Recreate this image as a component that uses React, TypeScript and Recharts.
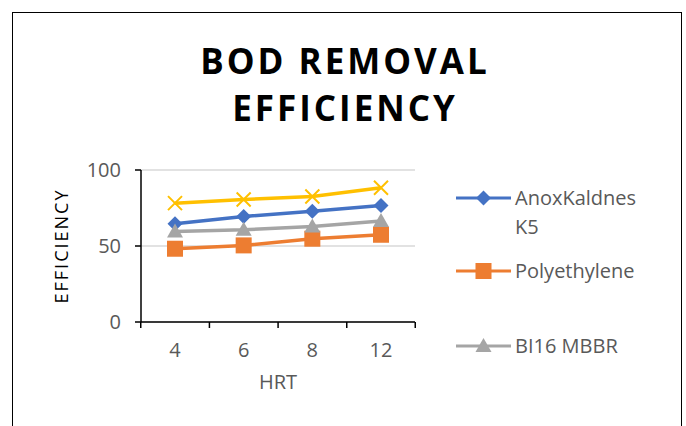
import { LineChart, Line, XAxis, YAxis, CartesianGrid } from "recharts";

const hrt = ["4", "6", "8", "12"];
const anoxKaldnes = [64.6, 69.4, 72.9, 76.7];
const polyethylene = [48.2, 50.4, 54.8, 57.4];
const bi16 = [59.6, 60.7, 62.9, 66.4];
const fourth = [78.2, 80.6, 82.6, 88.3];
const yTicks = [0, 50, 100];

const data = hrt.map((h, i) => ({
  hrt: h,
  anox: anoxKaldnes[i],
  poly: polyethylene[i],
  bi16: bi16[i],
  other: fourth[i],
}));

const FONT = "'Open Sans', sans-serif";
const TEXT = "#595959";
const BAND = 68.5;

const Diamond = (props: any) => {
  const { cx, cy, fill } = props;
  if (cx == null || cy == null) return null;
  const r = 7.5;
  return <path d={`M${cx},${cy - r}L${cx + r},${cy}L${cx},${cy + r}L${cx - r},${cy}Z`} fill={fill} />;
};

const Square = (props: any) => {
  const { cx, cy, fill } = props;
  if (cx == null || cy == null) return null;
  return <rect x={cx - 8} y={cy - 8} width={16} height={16} fill={fill} />;
};

const Triangle = (props: any) => {
  const { cx, cy, fill } = props;
  if (cx == null || cy == null) return null;
  return <path d={`M${cx},${cy - 8}L${cx + 8},${cy + 6}L${cx - 8},${cy + 6}Z`} fill={fill} />;
};

const Cross = (props: any) => {
  const { cx, cy, stroke } = props;
  if (cx == null || cy == null) return null;
  const r = 7;
  return (
    <path
      d={`M${cx - r},${cy - r}L${cx + r},${cy + r}M${cx - r},${cy + r}L${cx + r},${cy - r}`}
      stroke={stroke}
      strokeWidth={2}
      fill="none"
    />
  );
};

// ticks in Excel sit between categories, so draw them at the band edges
const XTick = (props: any) => {
  const { x, y, payload, index } = props;
  return (
    <g>
      <line x1={x - BAND / 2} y1={y - 8} x2={x - BAND / 2} y2={y - 2} stroke="#000" strokeWidth={1.5} />
      {index === hrt.length - 1 && (
        <line x1={x + BAND / 2} y1={y - 8} x2={x + BAND / 2} y2={y - 2} stroke="#000" strokeWidth={1.5} />
      )}
      <text x={x} y={y + 27} textAnchor="middle" fill={TEXT} fontSize={20} fontFamily={FONT}>
        {payload.value}
      </text>
    </g>
  );
};

const legendItems = [
  { label: ["AnoxKaldnes", "K5"], color: "#4472C4", top: 198, Mark: Diamond },
  { label: ["Polyethylene"], color: "#ED7D31", top: 271, Mark: Square },
  { label: ["BI16 MBBR"], color: "#A5A5A5", top: 346, Mark: Triangle },
];

const LegendBox = () => (
  <svg width={230} height={200} style={{ position: "absolute", left: 456, top: 170, overflow: "visible" }}>
    {legendItems.map((it) => {
      const y = it.top - 170;
      return (
        <g key={it.label[0]}>
          <line x1={0} y1={y} x2={55} y2={y} stroke={it.color} strokeWidth={3} />
          <it.Mark cx={27.5} cy={y} fill={it.color} stroke={it.color} />
          {it.label.map((t, i) => (
            <text key={t} x={59} y={y + 7 + i * 29} fill={TEXT} fontSize={20} fontFamily={FONT}>
              {t}
            </text>
          ))}
        </g>
      );
    })}
  </svg>
);

export default function App() {
  return (
    <div style={{ position: "absolute", left: 0, top: 0, width: 686, height: 426, background: "#fff", overflow: "hidden" }}>
      <div
        style={{
          position: "absolute",
          left: 12,
          top: 12,
          width: 668,
          height: 440,
          border: "1.5px solid #000",
        }}
      />
      <div
        style={{
          position: "absolute",
          left: 0,
          top: 37,
          width: 690,
          textAlign: "center",
          fontFamily: FONT,
          fontWeight: 700,
          fontSize: 35,
          letterSpacing: 3,
          lineHeight: "47px",
          color: "#000",
        }}
      >
        BOD REMOVAL
        <br />
        EFFICIENCY
      </div>
      <LineChart
        width={686}
        height={426}
        data={data}
        margin={{ top: 170, right: 271, bottom: 30, left: 0 }}
        style={{ position: "absolute", left: 0, top: 0 }}
      >
        <CartesianGrid vertical={false} stroke="#D9D9D9" strokeWidth={1.5} />
        <XAxis
          dataKey="hrt"
          height={74}
          padding={{ left: 34, right: 34 }}
          tickLine={false}
          axisLine={{ stroke: "#000", strokeWidth: 1.5 }}
          tick={<XTick />}
          interval={0}
          label={{ value: "HRT", position: "insideBottom", offset: 7, fill: TEXT, fontSize: 20, fontFamily: FONT }}
        />
        <YAxis
          width={141}
          domain={[0, 100]}
          ticks={yTicks}
          tickSize={6}
          tickMargin={14}
          tickLine={{ stroke: "#000", strokeWidth: 1.5 }}
          axisLine={{ stroke: "#000", strokeWidth: 1.5 }}
          tick={{ fill: TEXT, fontSize: 20, fontFamily: FONT }}
          label={{
            value: "EFFICIENCY",
            angle: -90,
            position: "insideLeft",
            offset: 62,
            fill: "#000",
            fontSize: 18,
            fontFamily: FONT,
            letterSpacing: 2,
            style: { textAnchor: "middle" },
          }}
        />
        <Line dataKey="anox" name="AnoxKaldnes K5" stroke="#4472C4" strokeWidth={3.5} dot={<Diamond fill="#4472C4" />} isAnimationActive={false} />
        <Line dataKey="poly" name="Polyethylene" stroke="#ED7D31" strokeWidth={3.5} dot={<Square fill="#ED7D31" />} isAnimationActive={false} />
        <Line dataKey="bi16" name="BI16 MBBR" stroke="#A5A5A5" strokeWidth={3.5} dot={<Triangle fill="#A5A5A5" />} isAnimationActive={false} />
        <Line dataKey="other" name="Series 4" stroke="#FFC000" strokeWidth={3.5} dot={<Cross stroke="#FFC000" />} legendType="none" isAnimationActive={false} />
      </LineChart>
      <LegendBox />
    </div>
  );
}
